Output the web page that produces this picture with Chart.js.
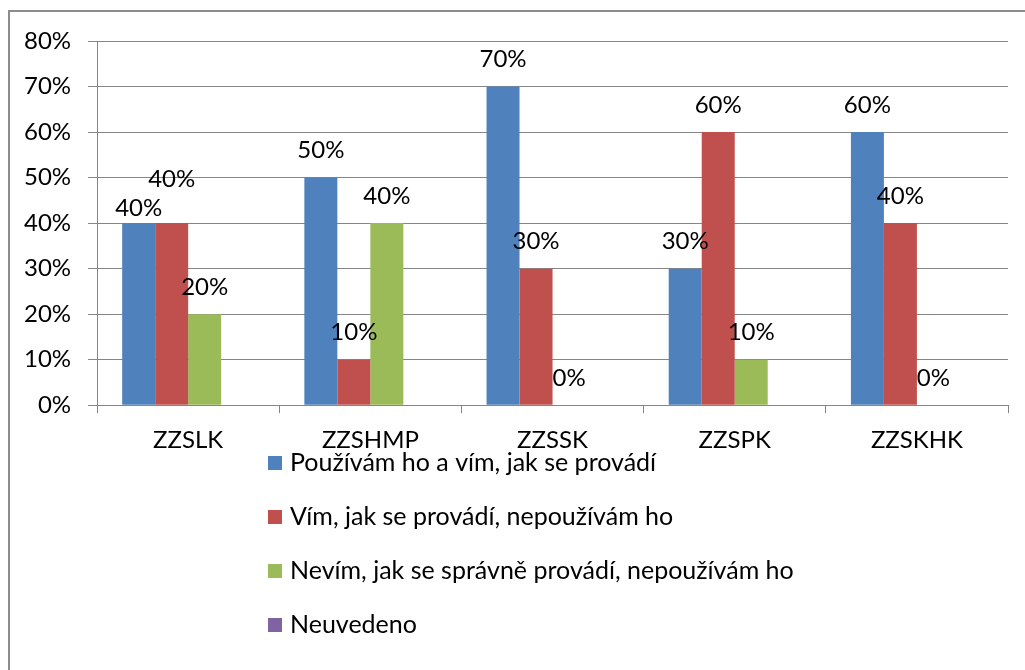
<!DOCTYPE html>
<html>
<head>
<meta charset="utf-8">
<script src="https://cdn.jsdelivr.net/npm/chart.js@4"></script>
<style>
html, body { margin: 0; padding: 0; background: #fff; }
#wrap { position: relative; width: 1025px; height: 670px; overflow: hidden; }
#frame { position: absolute; left: 8px; top: 10px; width: 1100px; height: 700px; border: 2px solid #8c8c8c; }
canvas { position: absolute; left: 0; top: 0; }
</style>
</head>
<body>
<div id="wrap">
  <div id="frame"></div>
  <canvas id="chart" width="1025" height="670"></canvas>
</div>
<script>
// categories and series
var categories = ["ZZSLK", "ZZSHMP", "ZZSSK", "ZZSPK", "ZZSKHK"];
var seriesNames = [
    "Používám ho a vím, jak se provádí",
    "Vím, jak se provádí, nepoužívám ho",
    "Nevím, jak se správně provádí, nepoužívám ho",
    "Neuvedeno"
];
var usesAndKnows = [40, 50, 70, 30, 60];
var knowsNotUses = [40, 10, 30, 60, 40];
var doesNotKnow = [20, 40, 0, 10, 0];
var notStated = [null, null, null, null, null];
var yMin = 0, yMax = 80, yStep = 10;

var colors = ['#4F81BD', '#C0504D', '#9BBB59', '#8064A2'];
var lineGray = '#868686';
var font = 'Lato';
var fontSize = 24;

// value labels above bars, Excel-like nudge when two collide
var barLabels = {
    id: 'barLabels',
    afterDatasetsDraw: function(chart) {
        var ctx = chart.ctx;
        ctx.save();
        ctx.font = fontSize + 'px ' + font;
        ctx.fillStyle = '#000';
        ctx.textAlign = 'center';
        ctx.textBaseline = 'middle';
        chart.data.labels.forEach(function(c, i) {
            var placed = [];
            chart.data.datasets.forEach(function(ds, d) {
                var v = ds.data[i];
                if (v === null) return;
                var bar = chart.getDatasetMeta(d).data[i];
                var txt = v + '%';
                var lbl = {text: txt, x: bar.x, y: bar.y - 27, w: ctx.measureText(txt).width};
                var prev = placed[placed.length - 1];
                if (prev && Math.abs(prev.y - lbl.y) < 24 && lbl.x - prev.x < (lbl.w + prev.w) / 2) {
                    prev.y += 12;
                    lbl.y -= 17;
                }
                placed.push(lbl);
            });
            placed.forEach(function(l) { ctx.fillText(l.text, l.x, l.y); });
        });
        ctx.restore();
    }
};

// vertical legend below the axis
var listLegend = {
    id: 'listLegend',
    afterDraw: function(chart) {
        var ctx = chart.ctx;
        ctx.save();
        ctx.font = (fontSize + 1) + 'px ' + font;
        ctx.textBaseline = 'middle';
        ctx.textAlign = 'left';
        chart.data.datasets.forEach(function(ds, d) {
            var y = 463 + d * 54;
            ctx.fillStyle = ds.backgroundColor;
            ctx.fillRect(268, y - 7, 14, 14);
            ctx.fillStyle = '#000';
            ctx.fillText(ds.label, 290, y);
        });
        ctx.restore();
    }
};

var datasets = [usesAndKnows, knowsNotUses, doesNotKnow, notStated].map(function(arr, k) {
    return {
        label: seriesNames[k],
        data: arr,
        backgroundColor: colors[k],
        borderWidth: 0,
        categoryPercentage: 0.7245,
        barPercentage: 1
    };
});

var ctx = document.getElementById('chart').getContext('2d');
var myChart = new Chart(ctx, {
    type: 'bar',
    data: { labels: categories, datasets: datasets },
    options: {
        responsive: false,
        animation: false,
        layout: { padding: { left: 7, right: 17, top: 41, bottom: 202 } },
        plugins: {
            legend: { display: false },
            tooltip: { enabled: false }
        },
        scales: {
            x: {
                offset: true,
                grid: { offset: true, drawOnChartArea: false, drawTicks: true, tickLength: 8, color: lineGray },
                border: { display: true, color: lineGray },
                ticks: { color: '#000', font: { family: font, size: fontSize }, padding: 13 }
            },
            y: {
                min: yMin,
                max: yMax,
                grid: { color: lineGray, tickLength: 9 },
                border: { display: true, color: lineGray },
                ticks: {
                    stepSize: yStep,
                    color: '#000',
                    font: { family: font, size: fontSize },
                    padding: 17,
                    callback: function(v) { return v + '%'; }
                }
            }
        }
    },
    plugins: [barLabels, listLegend]
});
</script>
</body>
</html>
